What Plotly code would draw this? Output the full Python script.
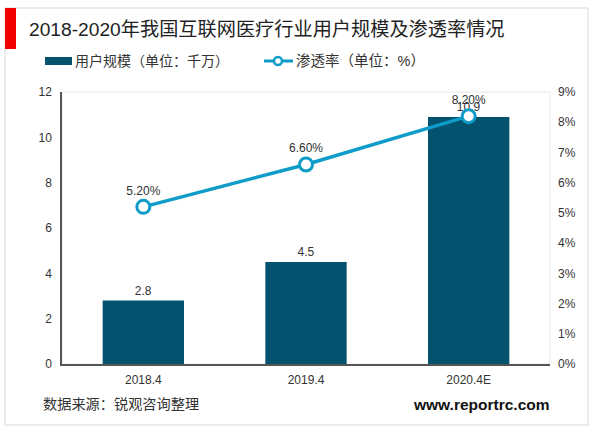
import plotly.graph_objects as go

categories = ["2018.4", "2019.4", "2020.4E"]
users = [2.8, 4.5, 10.9]
penetration = [5.2, 6.6, 8.2]
user_labels = ["2.8", "4.5", "10.9"]
pen_labels = ["5.20%", "6.60%", "8.20%"]
left_ticks = [0, 2, 4, 6, 8, 10, 12]
right_ticks = list(range(0, 10))
right_labels = [f"{v}%" for v in right_ticks]

W, H = 600, 433
L, R, T, B = 62, 550, 92, 364
FONT = "Liberation Sans, Noto Sans CJK SC, sans-serif"
BAR = "#03536F"
LINE = "#0F9CC8"
px = lambda v: (v - L) / (R - L)
py = lambda v: (B - v) / (B - T)

fig = go.Figure()
fig.add_trace(go.Bar(
    x=categories, y=users, name="用户规模（单位：千万）", showlegend=False,
    marker=dict(color=BAR, line=dict(width=0)), width=0.5,
    text=user_labels, textposition="outside", cliponaxis=False,
    textfont=dict(size=12, color="#333333"),
))
fig.add_trace(go.Scatter(
    x=categories, y=penetration, name="渗透率（单位：%）", yaxis="y2", showlegend=False,
    mode="lines+markers+text", text=pen_labels, textposition="top center",
    textfont=dict(size=12, color="#333333"), cliponaxis=False,
    line=dict(color=LINE, width=3.5),
    marker=dict(size=13, color="white", line=dict(color=LINE, width=3)),
))


def box(x0, y0, x1, y1, **kw):
    return dict(type="rect", xref="paper", yref="paper",
                x0=px(x0), x1=px(x1), y0=py(y1), y1=py(y0), **kw)


def label(text, x, y, size, color="#333333", anchor="left"):
    return dict(text=text, xref="paper", yref="paper", x=px(x), y=py(y),
                xanchor=anchor, yanchor="middle", showarrow=False,
                font=dict(size=size, color=color))


fig.update_layout(
    width=W, height=H, autosize=False,
    margin=dict(l=L, r=W - R, t=T, b=H - B),
    paper_bgcolor="white", plot_bgcolor="white",
    font=dict(family=FONT, size=12, color="#333333"),
    showlegend=False,
    xaxis=dict(showline=True, linecolor="#555555", linewidth=1.5, ticklabelstandoff=4,
               ticks="", showgrid=False, tickfont=dict(size=12, color="#333333")),
    yaxis=dict(range=[0, 12], tickvals=left_ticks, showline=True, linecolor="#555555",
               linewidth=1.5, ticks="", showgrid=False, zeroline=False, ticklabelstandoff=6,
               tickfont=dict(size=12, color="#333333")),
    yaxis2=dict(range=[0, 9], tickvals=right_ticks, ticktext=right_labels, overlaying="y",
                side="right", showline=False, ticks="", showgrid=False, zeroline=False,
                ticklabelstandoff=7, tickfont=dict(size=12, color="#333333")),
    shapes=[
        box(5, 8, 588, 425, line=dict(color="#E6E6E6", width=1.5), fillcolor="rgba(0,0,0,0)", layer="below"),
        box(5, 8, 16, 49, line=dict(width=0), fillcolor="#F40000", layer="above"),
        box(62, 92, 550, 364, line=dict(color="#E8E8E8", width=1), fillcolor="rgba(0,0,0,0)", layer="below"),
        box(45, 57, 72, 65, line=dict(width=0), fillcolor=BAR, layer="above"),
        dict(type="line", xref="paper", yref="paper", x0=px(264), x1=px(293), y0=py(61), y1=py(61),
             line=dict(color=LINE, width=3), layer="above"),
        dict(type="circle", xref="paper", yref="paper", x0=px(274), x1=px(282), y0=py(65), y1=py(57),
             line=dict(color=LINE, width=2.5), fillcolor="white", layer="above"),
    ],
    annotations=[
        label("2018-2020年我国互联网医疗行业用户规模及渗透率情况", 27, 30, 19.2, "#222222"),
        label("用户规模（单位：千万）", 73, 61, 14),
        label("渗透率（单位：%）", 294, 61, 14.5),
        label("数据来源：锐观咨询整理", 41, 404, 14.2),
        label("<b>www.reportrc.com</b>", 552, 404, 15.5, "#111111", "right"),
    ],
)
fig.write_html("out.html", post_script="document.body.style.margin='0';",
               config={"displayModeBar": False})
